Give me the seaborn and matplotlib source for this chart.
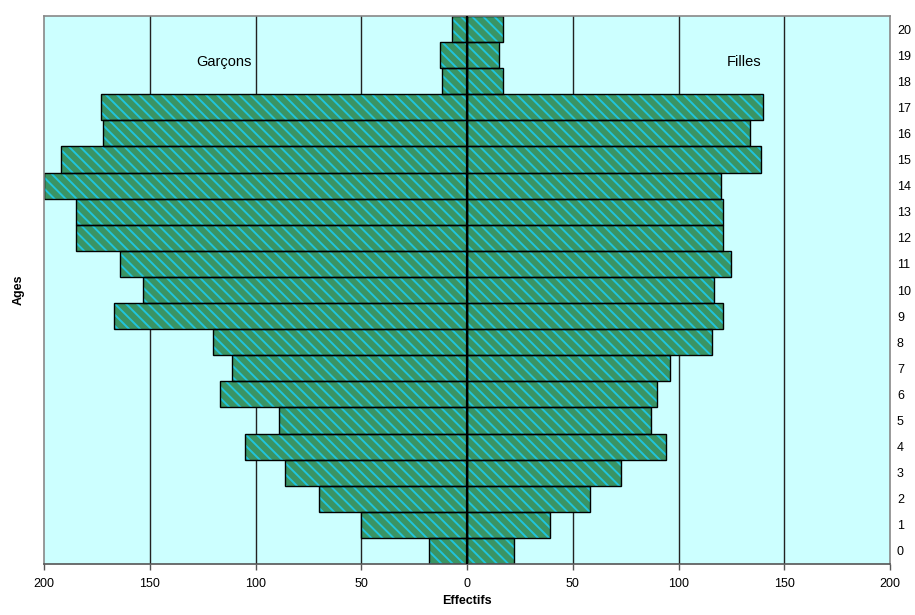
import matplotlib
matplotlib.use("Agg")
import matplotlib.pyplot as plt
import seaborn as sns
import pandas as pd
import numpy as np

# Ages 0..20 and counts by sex
ages = list(range(21))
garcons = [18, 50, 70, 86, 105, 89, 117, 111, 120, 167, 153, 164, 185, 185, 200, 192, 172, 173, 12, 13, 7]
filles = [22, 39, 58, 73, 94, 87, 90, 96, 116, 121, 117, 125, 121, 121, 120, 139, 134, 140, 17, 15, 17]
xticks = [-200, -150, -100, -50, 0, 50, 100, 150, 200]
xtick_labels = ["200", "150", "100", "50", "0", "50", "100", "150", "200"]

sns.set_style("white")
plt.rcParams["font.family"] = ["Liberation Sans", "DejaVu Sans"]
plt.rcParams["hatch.linewidth"] = 1.4
for k in ["text.color", "axes.labelcolor", "xtick.color", "ytick.color"]:
    plt.rcParams[k] = "black"

df = pd.DataFrame({
    "age": [str(a) for a in ages] * 2,
    "effectif": [-g for g in garcons] + filles,
    "sexe": ["Garçons"] * len(ages) + ["Filles"] * len(ages),
})
order = [str(a) for a in ages[::-1]]

fig = plt.figure(figsize=(9.15, 6.15), dpi=100)
ax = fig.add_axes([0.0481, 0.0829, 0.9246, 0.8911])
ax.set_facecolor("#ccffff")

for x in [-150, -100, -50, 50, 100, 150]:
    ax.axvline(x, color="#222222", lw=1.0, zorder=0)

for sexe in ["Garçons", "Filles"]:
    sub = df[df["sexe"] == sexe]
    # patterned fill (hatch takes the edge colour)
    sns.barplot(data=sub, x="effectif", y="age", order=order, orient="h",
                color="#3a9464", saturation=1, width=1.0, edgecolor="#20c4dc",
                linewidth=0, hatch="\\\\\\", ax=ax, zorder=2)
    # black outline on top
    sns.barplot(data=sub, x="effectif", y="age", order=order, orient="h",
                color="black", fill=False, width=1.0, linewidth=1.0,
                ax=ax, zorder=2.5)

ax.axvline(0, color="black", lw=1.6, zorder=3)

ax.set_xlim(-200, 200)
ax.set_ylim(len(order) - 0.5, -0.5)
ax.set_xticks(xticks)
ax.set_xticklabels(xtick_labels, fontsize=9)
ax.yaxis.tick_right()
ax.tick_params(axis="y", length=0, labelsize=9, pad=5)
ax.tick_params(axis="x", length=4, width=1, color="#555555", direction="out", bottom=True, pad=6)

for s in ax.spines.values():
    s.set_color("#888888")
    s.set_linewidth(1.2)
ax.spines["bottom"].set_color("#555555")

ax.text(-115, 1.25, "Garçons", fontsize=10.5, ha="center", va="center")
ax.text(131, 1.25, "Filles", fontsize=10.5, ha="center", va="center")

ax.set_xlabel("Effectifs", fontsize=9, fontweight="bold", labelpad=4)
ax.set_ylabel("Ages", fontsize=9, fontweight="bold")
ax.yaxis.set_label_position("left")
ax.yaxis.labelpad = 14

fig.savefig("out.png", dpi=100)
